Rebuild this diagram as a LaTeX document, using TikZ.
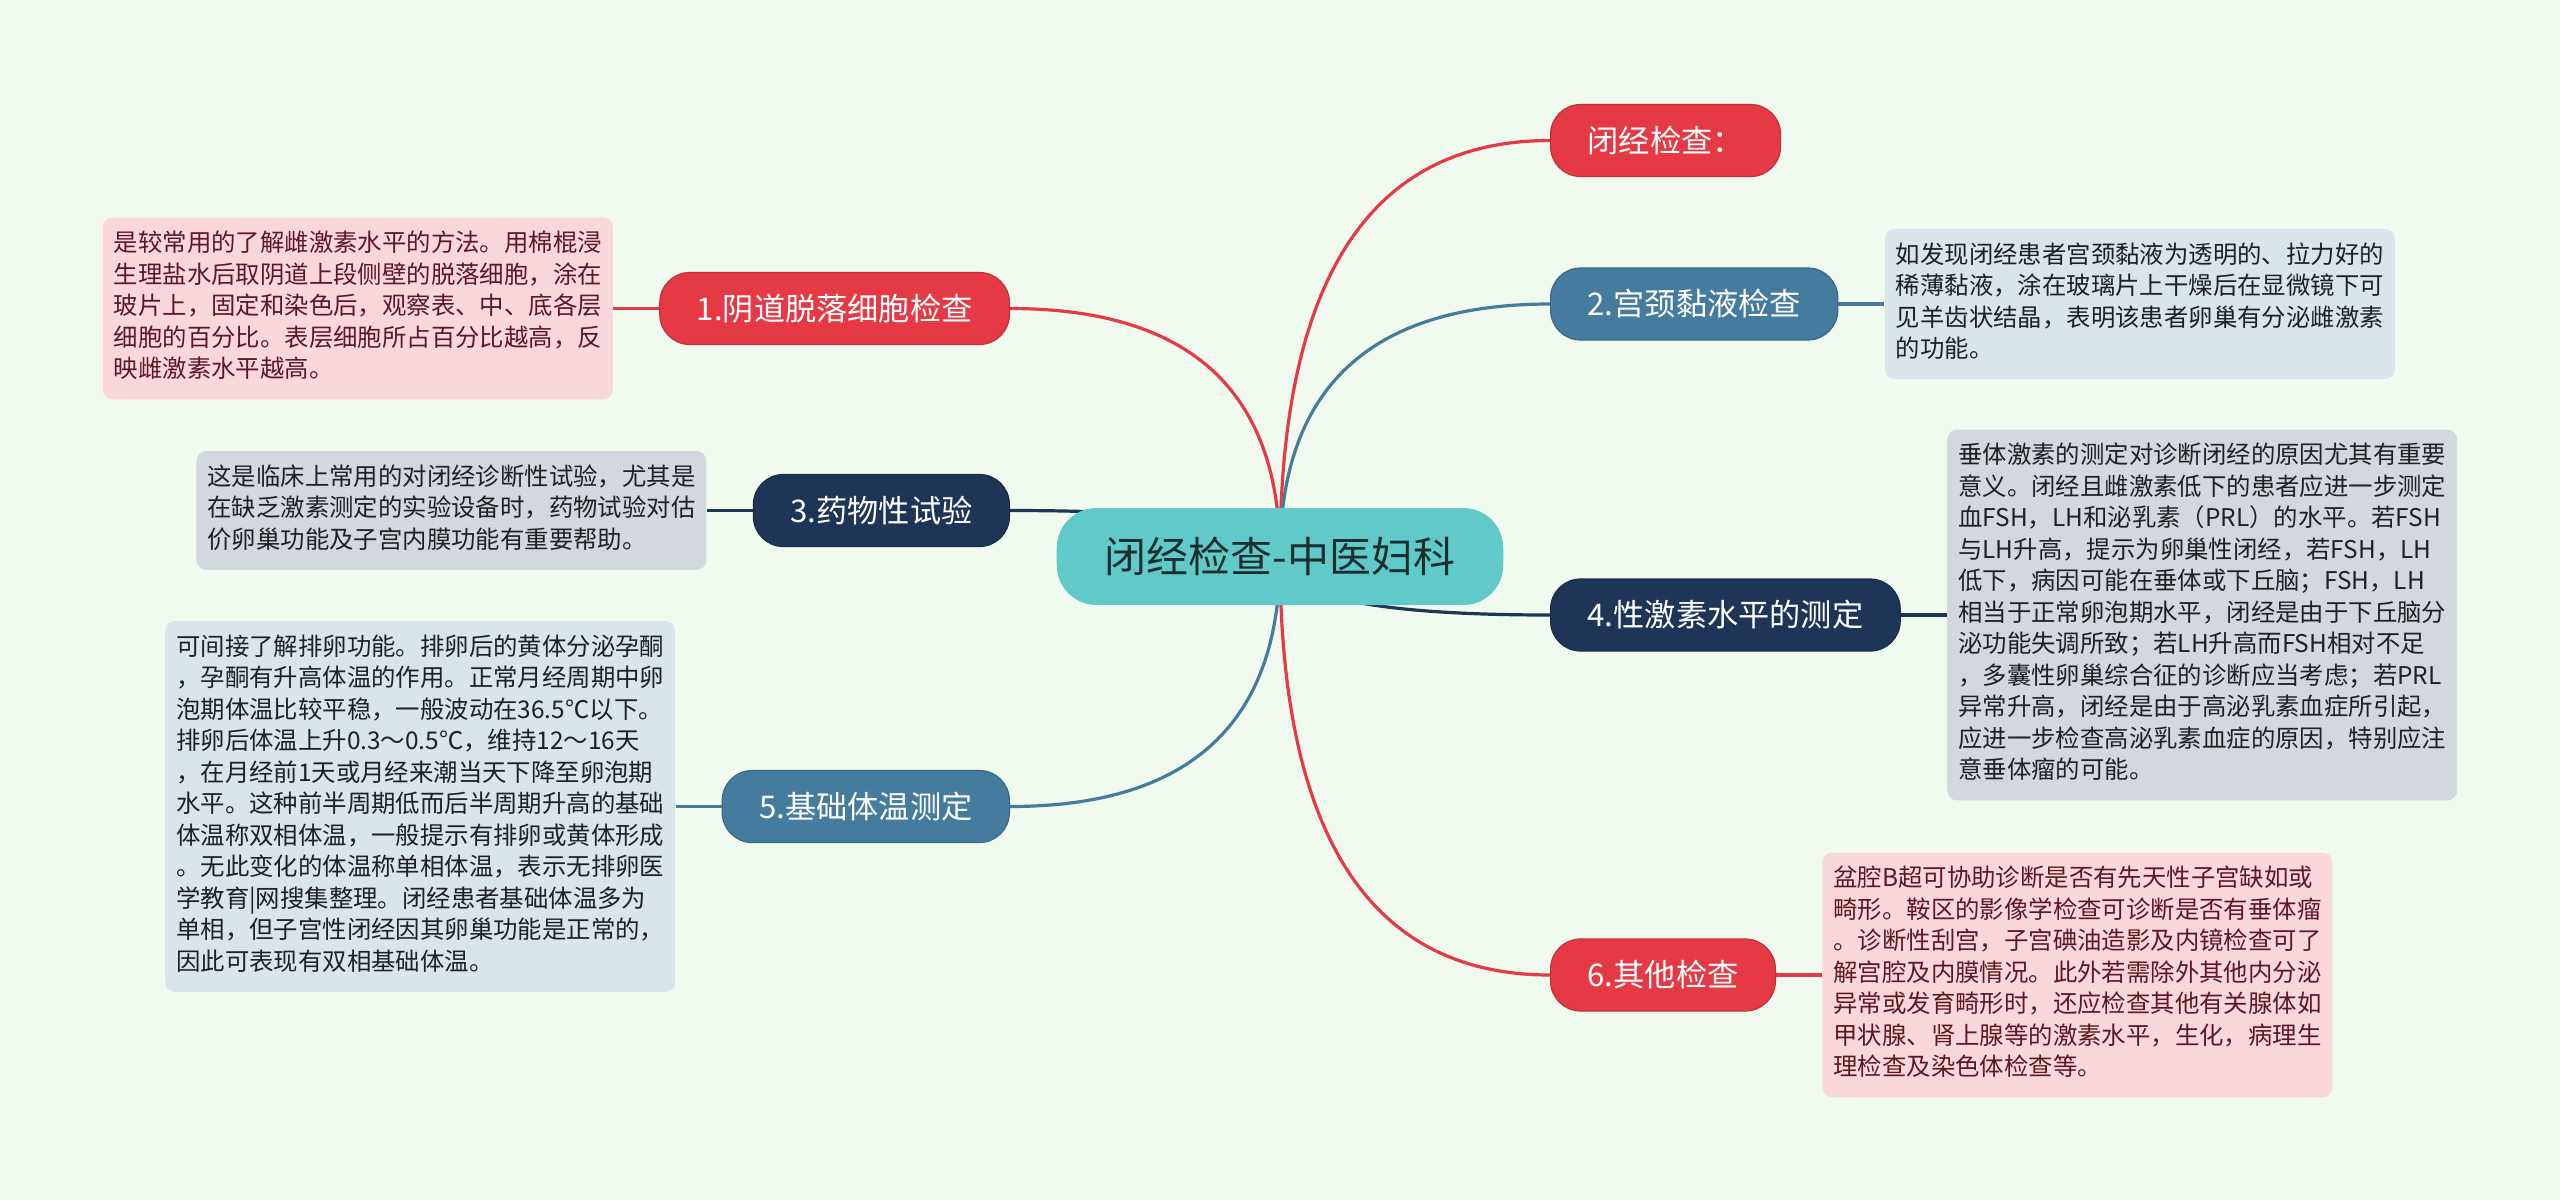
\documentclass[tikz,border=0pt]{standalone}
\usepackage{fontspec}
\setmainfont{Noto Sans CJK SC}
\usepackage{tikz}
\usetikzlibrary{positioning,calc}

\definecolor{bgpaper}{HTML}{F1FAEE}
\definecolor{mmred}{HTML}{E63946}
\definecolor{mmblue}{HTML}{457B9D}
\definecolor{mmnavy}{HTML}{1D3557}
\definecolor{mmteal}{HTML}{62C9CB}
\definecolor{pinkbg}{HTML}{FAD7DB}
\definecolor{graybg}{HTML}{D3D8DF}
\definecolor{bluebg}{HTML}{DAE4EB}
\definecolor{pinktext}{HTML}{5C1A20}
\definecolor{graytext}{HTML}{1E2024}
\definecolor{roottext}{HTML}{1A3030}

\pgfdeclarelayer{bg}
\pgfdeclarelayer{links}
\pgfsetlayers{bg,links,main}

\begin{document}
\begin{tikzpicture}[x=0.5pt,y=-0.5pt,
  rootbox/.style={fill=mmteal,rounded corners=20pt,minimum height=48.5pt,inner xsep=24pt,inner ysep=0pt,
    text=roottext,font=\fontsize{21pt}{25pt}\selectfont},
  topicbox/.style={rounded corners=15pt,minimum height=36pt,inner xsep=18.5pt,inner ysep=0pt,
    text=white,line width=0.6pt,font=\fontsize{15.6pt}{18pt}\selectfont},
  redtopic/.style={topicbox,fill=mmred,draw=mmred!85!black},
  bluetopic/.style={topicbox,fill=mmblue,draw=mmblue!85!black},
  navytopic/.style={topicbox,fill=mmnavy,draw=mmnavy!85!black},
  notebox/.style={rounded corners=5pt,text width=244pt,align=left,inner xsep=5.5pt,inner ysep=6.1pt,
    font=\fontsize{12.2pt}{15.75pt}\selectfont,execute at begin node=\strut,execute at end node=\strut},
  pinknote/.style={notebox,fill=pinkbg,text=pinktext},
  graynote/.style={notebox,fill=graybg,text=graytext},
  bluenote/.style={notebox,fill=bluebg,text=graytext},
  link/.style={line width=1.6pt}]

  \useasboundingbox (0,0) rectangle (2560,1200);
  \begin{pgfonlayer}{bg}
    \fill[bgpaper] (0,0) rectangle (2560,1200);
  \end{pgfonlayer}

  \node[rootbox] (root) at (1280,556.5) {闭经检查-中医妇科};

  \node[redtopic,anchor=west] (n0) at (1550,140.5) {闭经检查：};
  \node[redtopic,anchor=east] (n1) at (1010,308.5) {1.阴道脱落细胞检查};
  \node[bluetopic,anchor=west] (n2) at (1550,304) {2.宫颈黏液检查};
  \node[navytopic,anchor=east] (n3) at (1010,510.5) {3.药物性试验};
  \node[navytopic,anchor=west] (n4) at (1550,615) {4.性激素水平的测定};
  \node[bluetopic,anchor=east] (n5) at (1010,806.5) {5.基础体温测定};
  \node[redtopic,anchor=west] (n6) at (1550,975) {6.其他检查};

  \node[pinknote,left=23pt of n1] (d1) {是较常用的了解雌激素水平的方法。用棉棍浸\\
    生理盐水后取阴道上段侧壁的脱落细胞，涂在\\
    玻片上，固定和染色后，观察表、中、底各层\\
    细胞的百分比。表层细胞所占百分比越高，反\\
    映雌激素水平越高。};
  \node[bluenote,right=23pt of n2] (d2) {如发现闭经患者宫颈黏液为透明的、拉力好的\\
    稀薄黏液，涂在玻璃片上干燥后在显微镜下可\\
    见羊齿状结晶，表明该患者卵巢有分泌雌激素\\
    的功能。};
  \node[graynote,left=23pt of n3] (d3) {这是临床上常用的对闭经诊断性试验，尤其是\\
    在缺乏激素测定的实验设备时，药物试验对估\\
    价卵巢功能及子宫内膜功能有重要帮助。};
  \node[graynote,right=23pt of n4] (d4) {垂体激素的测定对诊断闭经的原因尤其有重要\\
    意义。闭经且雌激素低下的患者应进一步测定\\
    血FSH，LH和泌乳素（PRL）的水平。若FSH\\
    与LH升高，提示为卵巢性闭经，若FSH，LH\\
    低下，病因可能在垂体或下丘脑；FSH，LH\\
    相当于正常卵泡期水平，闭经是由于下丘脑分\\
    泌功能失调所致；若LH升高而FSH相对不足\\
    ，多囊性卵巢综合征的诊断应当考虑；若PRL\\
    异常升高，闭经是由于高泌乳素血症所引起，\\
    应进一步检查高泌乳素血症的原因，特别应注\\
    意垂体瘤的可能。};
  \node[bluenote,left=23pt of n5] (d5) {可间接了解排卵功能。排卵后的黄体分泌孕酮\\
    ，孕酮有升高体温的作用。正常月经周期中卵\\
    泡期体温比较平稳，一般波动在36.5℃以下。\\
    排卵后体温上升0.3～0.5℃，维持12～16天\\
    ，在月经前1天或月经来潮当天下降至卵泡期\\
    水平。这种前半周期低而后半周期升高的基础\\
    体温称双相体温，一般提示有排卵或黄体形成\\
    。无此变化的体温称单相体温，表示无排卵医\\
    学教育|网搜集整理。闭经患者基础体温多为\\
    单相，但子宫性闭经因其卵巢功能是正常的，\\
    因此可表现有双相基础体温。};
  \node[pinknote,right=23pt of n6] (d6) {盆腔B超可协助诊断是否有先天性子宫缺如或\\
    畸形。鞍区的影像学检查可诊断是否有垂体瘤\\
    。诊断性刮宫，子宫碘油造影及内镜检查可了\\
    解宫腔及内膜情况。此外若需除外其他内分泌\\
    异常或发育畸形时，还应检查其他有关腺体如\\
    甲状腺、肾上腺等的激素水平，生化，病理生\\
    理检查及染色体检查等。};

  \begin{pgfonlayer}{links}
    \foreach \n/\a/\c in {n0/west/mmred,n1/east/mmred,n2/west/mmblue,n3/east/mmnavy,
                          n4/west/mmnavy,n5/east/mmblue,n6/west/mmred}
      \draw[link,\c] (root.center) .. controls ($(root.center)!.667!(root.center|-\n.\a)$)
        and ($(\n.\a)!.667!(root.center|-\n.\a)$) .. (\n.\a);
    \foreach \n/\d/\c in {n1/d1/mmred,n2/d2/mmblue,n3/d3/mmnavy,n4/d4/mmnavy,n5/d5/mmblue,n6/d6/mmred}
      \draw[link,\c] (\n) -- (\d);
  \end{pgfonlayer}

\end{tikzpicture}
\end{document}
